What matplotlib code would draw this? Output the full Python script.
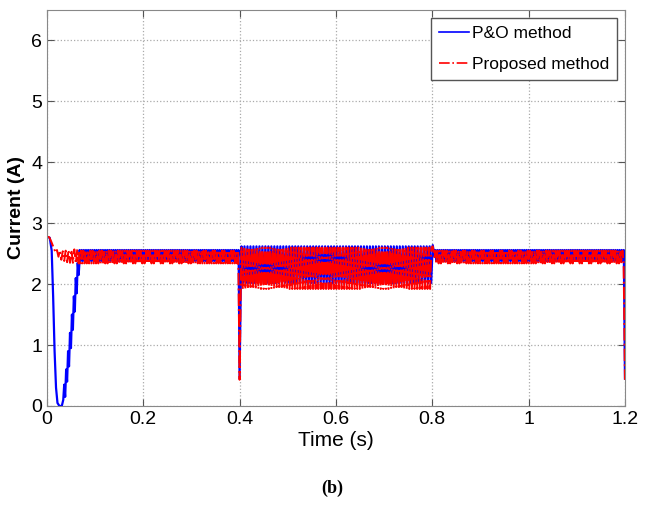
import numpy as np
import matplotlib
matplotlib.use("Agg")
import matplotlib.pyplot as plt

plt.rcParams["font.family"] = ["Liberation Sans", "DejaVu Sans"]

# --- values ---
# start-up transients (time, current)
po_start_t = [0.0, 0.006, 0.010, 0.013, 0.016, 0.019, 0.022, 0.026, 0.031, 0.034,
              0.036, 0.038, 0.040, 0.042, 0.044, 0.046, 0.048, 0.050, 0.052, 0.054,
              0.056, 0.058, 0.060, 0.062, 0.064, 0.066, 0.068]
po_start_i = [2.78, 2.76, 2.55, 1.8, 0.9, 0.3, 0.05, 0.0, 0.0, 0.1,
              0.35, 0.15, 0.6, 0.4, 0.9, 0.65, 1.2, 0.95, 1.5, 1.25,
              1.8, 1.55, 2.1, 1.85, 2.35, 2.15, 2.40]
pr_start_t = [0.0, 0.005, 0.009, 0.012, 0.015, 0.018, 0.021, 0.024, 0.027, 0.030,
              0.033, 0.036, 0.039, 0.042, 0.045, 0.048, 0.051, 0.054, 0.057, 0.060,
              0.063, 0.066]
pr_start_i = [2.78, 2.77, 2.70, 2.64, 2.58, 2.52, 2.56, 2.45, 2.55, 2.40,
              2.54, 2.38, 2.55, 2.36, 2.56, 2.35, 2.56, 2.35, 2.57, 2.34,
              2.57, 2.34]

# steady oscillation segments: (start, end, low, high, half period)
po_segments = [(0.068, 0.399, 2.38, 2.56, 0.0022),
               (0.404, 0.800, 2.02, 2.62, 0.0031),
               (0.806, 1.199, 2.38, 2.56, 0.0022)]
pr_segments = [(0.066, 0.399, 2.34, 2.55, 0.0024),
               (0.404, 0.800, 1.92, 2.60, 0.0027),
               (0.806, 1.199, 2.34, 2.55, 0.0024)]

# switching events: (time, current)
po_events = [(0.400, 0.45), (0.403, 2.3), (0.801, 2.64), (0.805, 2.45), (1.200, 0.45)]
pr_events = [(0.400, 0.43), (0.403, 2.2), (0.801, 2.62), (0.805, 2.42), (1.200, 0.43)]


def build(start_t, start_i, segments, events):
    t = list(start_t)
    y = list(start_i)
    for t0, t1, lo, hi, hp in segments:
        ts = np.arange(t0, t1, hp)
        vals = [hi if j % 2 == 0 else lo for j in range(len(ts))]
        t.extend(ts)
        y.extend(vals)
        for et, ei in events:
            if t1 <= et < t1 + 0.01:
                t.append(et)
                y.append(ei)
    return np.array(t), np.array(y)


po_t, po_i = build(po_start_t, po_start_i, po_segments, po_events)
pr_t, pr_i = build(pr_start_t, pr_start_i, pr_segments, pr_events)

fig = plt.figure(figsize=(6.51, 5.09), dpi=100)
ax = fig.add_axes([0.072, 0.2024, 0.888, 0.778])

ax.plot(po_t, po_i, color="blue", lw=1.6, label="P&O method")
ax.plot(pr_t, pr_i, color="red", lw=1.4, linestyle="-.", label="Proposed method")

ax.set_xlim(0, 1.2)
ax.set_ylim(0, 6.5)
ax.set_xticks([0, 0.2, 0.4, 0.6, 0.8, 1, 1.2])
ax.set_xticklabels(["0", "0.2", "0.4", "0.6", "0.8", "1", "1.2"])
ax.set_yticks([0, 1, 2, 3, 4, 5, 6])
ax.tick_params(direction="in", top=True, right=True, labelsize=14, length=5, color="#555555")
ax.grid(True, linestyle=":", color="#aaaaaa", lw=0.9)
for s in ax.spines.values():
    s.set_color("#888888")

ax.set_xlabel("Time (s)", fontsize=15, labelpad=2)
ax.set_ylabel("Current (A)", fontsize=14, fontweight="bold", labelpad=4)

leg = ax.legend(loc="upper right", fontsize=12.5, fancybox=False, framealpha=1,
                edgecolor="#555555", handlelength=1.7, handletextpad=0.2,
                borderpad=0.45, labelspacing=0.95, borderaxespad=0.45)
leg.get_frame().set_linewidth(1.0)
for line in leg.get_lines():
    line.set_linewidth(1.2)

fig.text(0.51, 0.04, "(b)", fontsize=13, fontweight="bold", family="Liberation Serif",
         ha="center", va="center")

fig.savefig("out.png", dpi=100)
